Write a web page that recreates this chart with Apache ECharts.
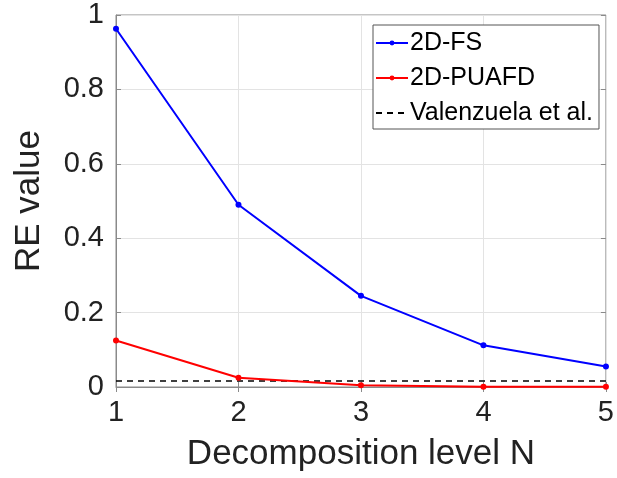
<!DOCTYPE html>
<html><head><meta charset="utf-8">
<script src="https://cdn.jsdelivr.net/npm/echarts@6/dist/echarts.min.js"></script>
<style>html,body{margin:0;padding:0;background:#fff}#c{width:617px;height:478px}</style>
</head><body><div id="c"></div>
<script>
const levels = [1, 2, 3, 4, 5];
const fsValues = [0.963, 0.490, 0.245, 0.112, 0.055];
const puafdValues = [0.125, 0.025, 0.005, 0.001, 0.001];
const valenzuelaValues = [0.016, 0.016, 0.016, 0.016, 0.016];
const seriesNames = ['2D-FS', '2D-PUAFD', 'Valenzuela et al.'];

const font = "'Liberation Sans', Arial, Helvetica, sans-serif";
const chart = echarts.init(document.getElementById('c'), null, {renderer: 'canvas'});
const pairs = arr => levels.map((x, i) => [x, arr[i]]);
const gridLine = {show: true, lineStyle: {color: '#e3e3e3', width: 1}};
chart.setOption({
  animation: false,
  backgroundColor: '#fff',
  grid: {left: 116, top: 15, width: 496, height: 372, show: true, borderColor: '#8a8a8a', borderWidth: 1},
  legend: {
    orient: 'vertical', left: 373, top: 25,
    backgroundColor: '#fff', borderColor: '#555', borderWidth: 1,
    padding: [5, 6, 3, 2], itemGap: 9, itemWidth: 32, itemHeight: 6,
    textStyle: {fontFamily: font, fontSize: 25, lineHeight: 26, color: '#000', padding: [0, 0, 0, -3]},
    data: [
      {name: seriesNames[0]},
      {name: seriesNames[1]},
      {name: seriesNames[2], itemStyle: {opacity: 0}}
    ]
  },
  xAxis: [{
    type: 'value', min: 1, max: 5, interval: 1,
    axisLine: {show: true, lineStyle: {color: '#8a8a8a'}},
    axisTick: {show: true, inside: true, length: 5, lineStyle: {color: '#8a8a8a'}},
    axisLabel: {fontFamily: font, fontSize: 29, color: '#222', margin: 11},
    splitLine: gridLine,
    name: 'Decomposition level N', nameLocation: 'middle', nameGap: 50,
    nameTextStyle: {fontFamily: font, fontSize: 35, color: '#222'}
  }, {
    type: 'value', position: 'top', min: 1, max: 5, interval: 1,
    axisLine: {show: false}, axisTick: {show: true, inside: true, length: 5, lineStyle: {color: '#8a8a8a'}},
    axisLabel: {show: false}, splitLine: {show: false}
  }],
  yAxis: [{
    type: 'value', min: 0, max: 1, interval: 0.2,
    axisLine: {show: true, lineStyle: {color: '#8a8a8a'}},
    axisTick: {show: true, inside: true, length: 5, lineStyle: {color: '#8a8a8a'}},
    axisLabel: {fontFamily: font, fontSize: 29, color: '#222', margin: 12,
      formatter: v => (Math.round(v * 10) / 10).toString()},
    splitLine: gridLine,
    name: 'RE value', nameLocation: 'middle', nameGap: 69,
    nameTextStyle: {fontFamily: font, fontSize: 35, color: '#222'}
  }, {
    type: 'value', position: 'right', min: 0, max: 1, interval: 0.2,
    axisLine: {show: false}, axisTick: {show: true, inside: true, length: 5, lineStyle: {color: '#8a8a8a'}},
    axisLabel: {show: false}, splitLine: {show: false}
  }],
  series: [
    {name: seriesNames[0], type: 'line', data: pairs(fsValues), symbol: 'circle', symbolSize: 6,
     itemStyle: {color: '#0000ff'}, lineStyle: {color: '#0000ff', width: 2}, z: 3},
    {name: seriesNames[1], type: 'line', data: pairs(puafdValues), symbol: 'circle', symbolSize: 6,
     itemStyle: {color: '#ff0000'}, lineStyle: {color: '#ff0000', width: 2}, z: 3},
    {name: seriesNames[2], type: 'line', data: pairs(valenzuelaValues), symbol: 'none',
     itemStyle: {color: '#000'}, lineStyle: {color: '#000', width: 1.5, type: [6, 5]}, z: 2}
  ]
});
</script></body></html>
